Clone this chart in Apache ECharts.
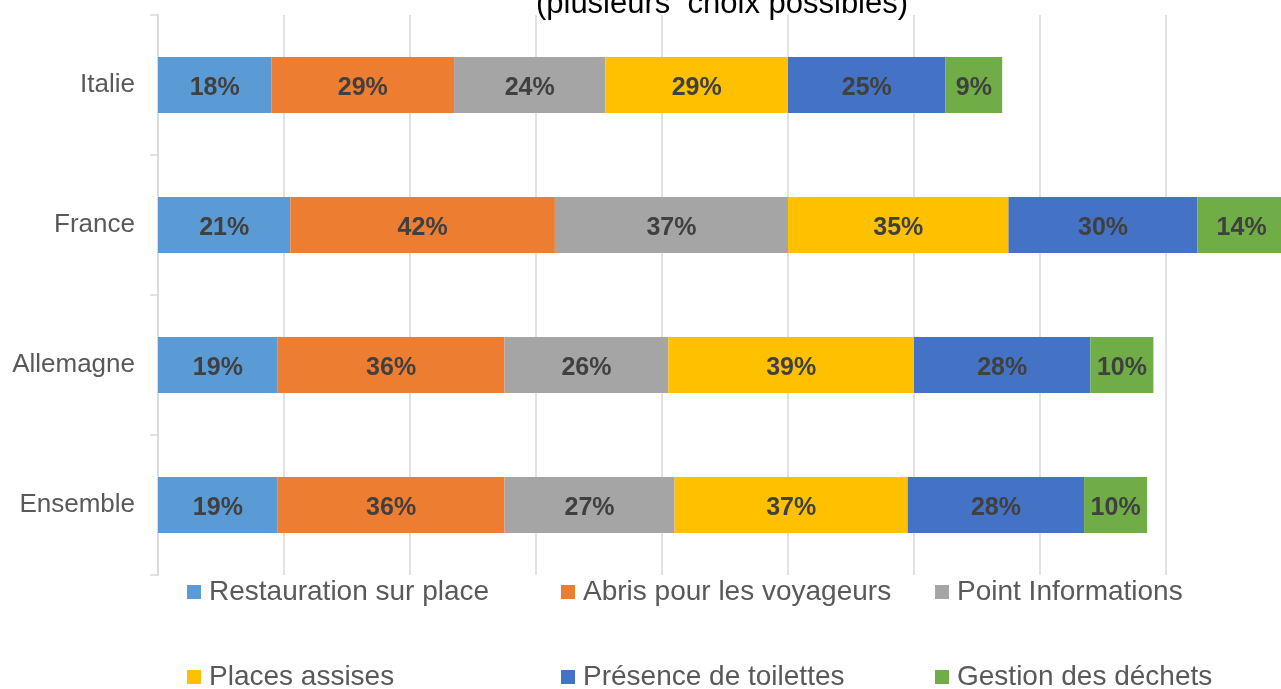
<!DOCTYPE html>
<html>
<head>
<meta charset="utf-8">
<script src="https://cdn.jsdelivr.net/npm/echarts@6/dist/echarts.min.js"></script>
<style>
html,body{margin:0;padding:0;background:#fff;}
#chart{width:1281px;height:689px;}
</style>
</head>
<body>
<div id="chart"></div>
<script>
var categories = ['Italie', 'France', 'Allemagne', 'Ensemble'];
var seriesNames = ['Restauration sur place', 'Abris pour les voyageurs', 'Point Informations', 'Places assises', 'Présence de toilettes', 'Gestion des déchets'];
var restauration = [18, 21, 19, 19];
var abris = [29, 42, 36, 36];
var pointInfo = [24, 37, 26, 27];
var places = [29, 35, 39, 37];
var toilettes = [25, 30, 28, 28];
var dechets = [9, 14, 10, 10];
var colors = ['#5B9BD5', '#ED7D31', '#A5A5A5', '#FFC000', '#4472C4', '#70AD47'];
var titleText = '(plusieurs  choix possibles)';

var values = [restauration, abris, pointInfo, places, toilettes, dechets];
var font = 'Liberation Sans, Arial, sans-serif';

var legendPos = [[187, 577], [561, 577], [935, 577], [187, 662], [561, 662], [935, 662]];
var legends = seriesNames.map(function (n, i) {
  return {
    data: [n],
    left: legendPos[i][0],
    top: legendPos[i][1],
    padding: 0,
    icon: 'rect',
    itemWidth: 14,
    itemHeight: 14,
    selectedMode: false,
    textStyle: { fontFamily: font, fontSize: 28, color: '#595959', lineHeight: 30, padding: [0, 0, 0, 3] }
  };
});

var series = seriesNames.map(function (n, i) {
  return {
    name: n,
    type: 'bar',
    stack: 'total',
    barWidth: 56,
    data: values[i],
    itemStyle: { color: colors[i] },
    label: {
      show: true,
      position: 'inside',
      offset: [0, 3],
      formatter: '{c}%',
      fontFamily: font,
      fontSize: 25,
      fontWeight: 'bold',
      color: '#404040'
    }
  };
});

var chart = echarts.init(document.getElementById('chart'));
chart.setOption({
  animation: false,
  color: colors,
  title: {
    text: titleText,
    left: 722,
    textAlign: 'center',
    top: -11,
    padding: 0,
    textStyle: { fontFamily: font, fontSize: 31, fontWeight: 'normal', color: '#000000' }
  },
  legend: legends,
  grid: { left: 158, top: 15, height: 560, width: 1260, containLabel: false, outerBoundsMode: 'none' },
  xAxis: {
    type: 'value',
    min: 0,
    max: 200,
    interval: 20,
    axisLabel: { show: false },
    axisLine: { show: false },
    axisTick: { show: false },
    splitLine: { show: true, lineStyle: { color: '#d9d9d9', width: 1.5 } }
  },
  yAxis: {
    type: 'category',
    inverse: true,
    data: categories,
    axisLine: { show: true, lineStyle: { color: '#d9d9d9', width: 1.5 } },
    axisTick: { show: true, length: 8, lineStyle: { color: '#d9d9d9', width: 1.5 } },
    axisLabel: { margin: 23, padding: [8, 0, 0, 0], fontFamily: font, fontSize: 26, color: '#595959' }
  },
  series: series
});
</script>
</body>
</html>
